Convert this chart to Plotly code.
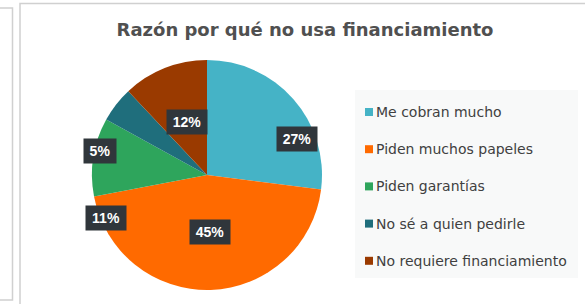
import math
import plotly.graph_objects as go

# ---- data ----
categories = ["Me cobran mucho", "Piden muchos papeles", "Piden garantías",
              "No sé a quien pedirle", "No requiere financiamiento"]
values = [27, 45, 11, 5, 12]
title_text = "Razón por qué no usa financiamiento"

# ---- style ----
colors = ["#45B3C6", "#FF6A00", "#2EA55C", "#1F6E7C", "#9A3A00"]
W, H = 585, 304
cx, cy, R = 207, 175, 115          # pie centre / radius in px
label_r = [0.84, 0.50, 0.95, 0.95, 0.49]     # label distance (fraction of R)
label_shift = [19.6, -1, -32, -25, 1]        # angular nudge (deg)
FONT = "DejaVu Sans, Verdana, Arial"


def px(x):
    return x / W


def py(y):
    return 1 - y / H


fig = go.Figure()
fig.add_trace(go.Pie(
    labels=categories, values=values, sort=False, direction="clockwise",
    rotation=0, marker=dict(colors=colors, line=dict(width=0)),
    textinfo="none", hoverinfo="label+percent", showlegend=False,
    domain=dict(x=[px(cx - R), px(cx + R)], y=[py(cy + R), py(cy - R)]),
))

# data labels in dark boxes
total = sum(values)
cum = 0
annotations = []
for i, v in enumerate(values):
    mid = (cum + v / 2) / total * 360 + label_shift[i]
    cum += v
    th = math.radians(mid)
    lx = cx + label_r[i] * R * math.sin(th)
    ly = cy - label_r[i] * R * math.cos(th)
    txt = f"{round(v / total * 100)}%"
    annotations.append(dict(
        x=px(lx), y=py(ly), xref="paper", yref="paper",
        text=f"<b>{txt}</b>", showarrow=False,
        width=34 if len(txt) > 2 else 26, height=18,
        font=dict(family="Liberation Sans, Arial", size=14, color="white"),
        bgcolor="#30363B", borderpad=3, xanchor="center", yanchor="middle"))

# manual legend
shapes = []
leg_x, leg_y0, leg_dy = 365, 112, 37.2
shapes.append(dict(type="rect", xref="paper", yref="paper",
                   x0=px(355), x1=px(578), y0=py(278), y1=py(90),
                   fillcolor="#F8F9F9", line=dict(width=0), layer="below"))
for i, c in enumerate(categories):
    yy = leg_y0 + i * leg_dy
    shapes.append(dict(type="rect", xref="paper", yref="paper",
                       x0=px(leg_x), x1=px(leg_x + 8),
                       y0=py(yy + 4), y1=py(yy - 4),
                       fillcolor=colors[i], line=dict(width=0)))
    annotations.append(dict(
        x=px(leg_x + 9), y=py(yy), xref="paper", yref="paper",
        text=c, showarrow=False, xanchor="left", yanchor="middle",
        font=dict(family=FONT, size=14, color="#404040")))

# panel borders
shapes.append(dict(type="rect", xref="paper", yref="paper",
                   x0=px(20), x1=px(W + 5), y0=py(H + 5), y1=py(3.5),
                   line=dict(color="#D0D0D0", width=1.5), fillcolor="rgba(0,0,0,0)"))
shapes.append(dict(type="rect", xref="paper", yref="paper",
                   x0=px(-5), x1=px(12.5), y0=py(300), y1=py(8),
                   line=dict(color="#D0D0D0", width=1.5), fillcolor="rgba(0,0,0,0)"))

fig.update_layout(
    width=W, height=H, margin=dict(l=0, r=0, t=0, b=0),
    paper_bgcolor="white", plot_bgcolor="white",
    title=dict(text=f"<b>{title_text}</b>", x=px(305), xanchor="center",
               y=py(30), yanchor="middle",
               font=dict(family=FONT, size=18, color="#505050")),
    annotations=annotations, shapes=shapes,
)

fig.write_html("out.html", config={"displayModeBar": False},
               post_script="document.body.style.margin='0';"
                           "document.body.style.overflow='hidden';")
